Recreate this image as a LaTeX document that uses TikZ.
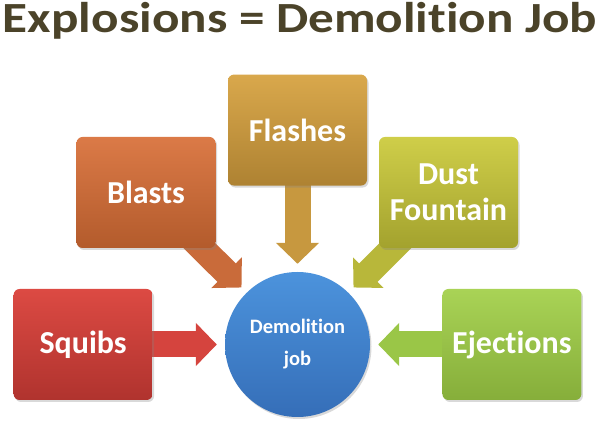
\documentclass[tikz,border=0pt]{standalone}
\usepackage{fontspec}
\setmainfont{Carlito}[Ligatures=NoCommon]
\usetikzlibrary{positioning,arrows.meta,calc,shadows,backgrounds}

\definecolor{titlecol}{HTML}{4B4329}
\definecolor{sqtop}{HTML}{DC4A43}  \definecolor{sqbot}{HTML}{B0332E}  \definecolor{sqarr}{HTML}{D5443E}
\definecolor{bltop}{HTML}{DB7A47}  \definecolor{blbot}{HTML}{B35B2C}  \definecolor{blarr}{HTML}{C96B3A}
\definecolor{fltop}{HTML}{D9A84C}  \definecolor{flbot}{HTML}{AE8232}  \definecolor{flarr}{HTML}{C7983F}
\definecolor{dutop}{HTML}{CFCE49}  \definecolor{dubot}{HTML}{A3A22E}  \definecolor{duarr}{HTML}{B8B73A}
\definecolor{ejtop}{HTML}{A9D356}  \definecolor{ejbot}{HTML}{86AE3A}  \definecolor{ejarr}{HTML}{9AC647}
\definecolor{demtop}{HTML}{4C93DC} \definecolor{dembot}{HTML}{356EB8}

\begin{document}
\begin{tikzpicture}[
  x=1pt, y=1pt,
  box/.style={rounded corners=6pt, minimum width=139pt, minimum height=111pt,
              inner sep=2pt, align=center, text=white,
              font=\fontsize{32}{36}\selectfont\bfseries,
              drop shadow={opacity=0.3, shadow xshift=1.5pt, shadow yshift=-2pt}},
  hub/.style={circle, minimum size=145pt, inner sep=0pt, align=center, text=white,
              font=\fontsize{20.5}{32}\selectfont\bfseries,
              top color=demtop, bottom color=dembot,
              drop shadow={opacity=0.3, shadow xshift=1.5pt, shadow yshift=-2pt}},
  blk/.style={line width=26pt, -{Triangle[length=21pt, width=42pt]}},
]
\useasboundingbox (0,0) rectangle (600,423);

%% ---------- title ----------
\node[anchor=base, text=titlecol, font=\fontsize{43}{48}\selectfont\bfseries, inner sep=0pt,
      xscale=1.19, transform shape]
  (title) at (300,390) {Explosions = Demolition Job};

%% ---------- hub and the five sources ----------
\node[hub] (demo) at (297.5,78.5) {Demolition\\ job};

\node[box, top color=sqtop, bottom color=sqbot, left=72pt of demo]  (squibs) {Squibs};
\node[box, top color=ejtop, bottom color=ejbot, right=72pt of demo] (eject)  {Ejections};
\node[box, top color=fltop, bottom color=flbot, above=86pt of demo] (flash)  {Flashes};
\node[box, top color=bltop, bottom color=blbot] (blasts) at (146,230.5) {Blasts};
\node[box, top color=dutop, bottom color=dubot] (dust)   at (448.5,230.5) {Dust\\ Fountain};

%% arrow tips stop short of the circle
\coordinate (tipS) at ($(demo.west)+(-8,0)$);
\coordinate (tipE) at ($(demo.east)+(8,0)$);
\coordinate (tipF) at ($(demo.north)+(0,8)$);
\coordinate (tipB) at ($(demo.center)+(-56,57)$);
\coordinate (tipD) at ($(demo.center)+(56,57)$);

%% ---------- block arrows, behind the boxes ----------
\begin{scope}[on background layer]
  \draw[blk, sqarr] (squibs.center) -- (tipS);
  \draw[blk, ejarr] (eject.center)  -- (tipE);
  \draw[blk, flarr] (flash.center)  -- (tipF);
  \draw[blk, blarr] (blasts.center) -- (tipB);
  \draw[blk, duarr] (dust.center)   -- (tipD);
\end{scope}

\end{tikzpicture}
\end{document}
